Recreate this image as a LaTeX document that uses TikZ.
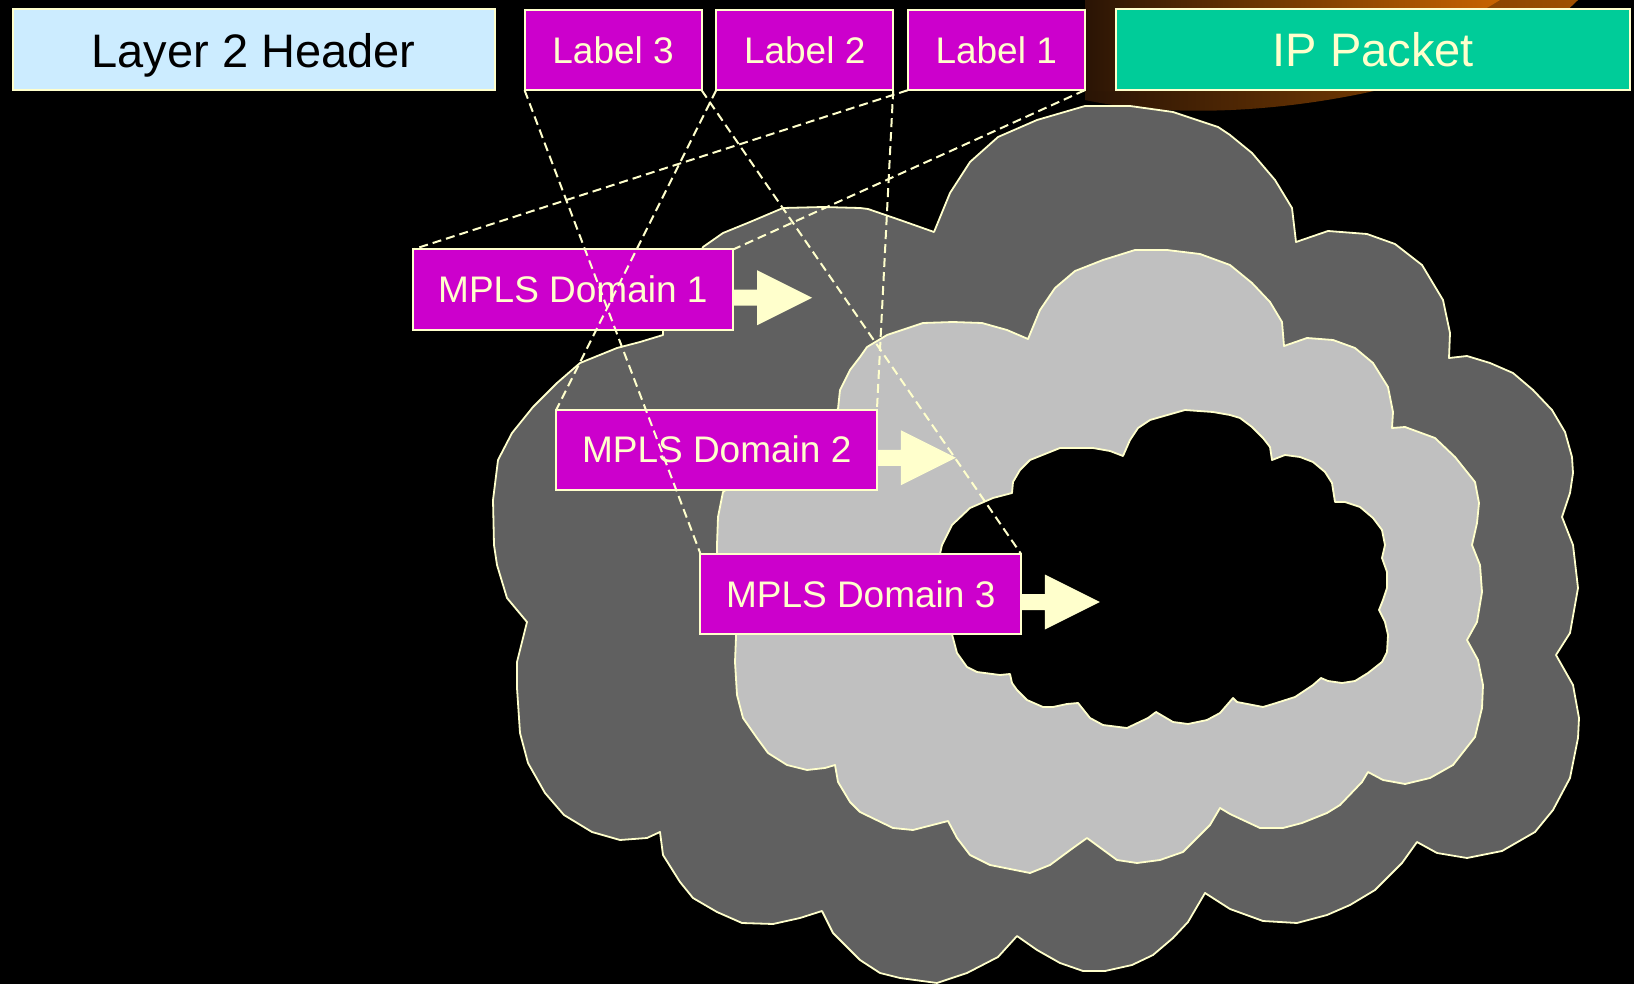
\documentclass[tikz,border=0pt]{standalone}
\usepackage{fontspec}
\setmainfont{Liberation Sans}
\usetikzlibrary{calc}
\definecolor{pale}{HTML}{FFFFCC}
\definecolor{lblmag}{HTML}{CC00CC}
\definecolor{ipteal}{HTML}{00CC99}
\definecolor{hdrblue}{HTML}{CCECFF}
\definecolor{clouddark}{HTML}{606060}
\definecolor{cloudlight}{HTML}{C0C0C0}
\definecolor{glowbright}{HTML}{C86400}
\definecolor{glowdim}{HTML}{A05000}
\definecolor{glowdark}{HTML}{2A1405}
\tikzset{
  blockarrow/.pic={\fill[pale] (0,-8) -- (24,-8) -- (24,-27.5) -- (79,0) -- (24,27.5) -- (24,8) -- (0,8) -- cycle;}
}
\begin{document}
\begin{tikzpicture}[x=0.5pt,y=-0.5pt,
  box/.style={draw=pale, line width=1pt, inner sep=0pt, outer sep=0pt},
  hdrbox/.style={box, minimum height=40.5pt, font=\fontsize{23.5}{28}\selectfont},
  lblbox/.style={box, fill=lblmag, text=pale, minimum width=88.5pt, minimum height=40.25pt, font=\fontsize{18.5}{22}\selectfont},
  dombox/.style={box, fill=lblmag, text=pale, minimum width=160.25pt, minimum height=40.25pt, font=\fontsize{18.5}{22}\selectfont},
  cloudline/.style={draw=pale, line width=0.9pt, line join=round},
  dashln/.style={draw=pale, line width=1pt, dash pattern=on 4.5pt off 2.5pt}
]
\useasboundingbox (0,0) rectangle (1634,984);
\fill[black] (0,0) rectangle (1634,984);

% orange swoosh in the top right corner: dim outer rim, bright band inside
\shade[left color=glowdark, right color=glowdim]
  (1085,0) -- (1085,100) .. controls (1250,135) and (1500,80) .. (1578,0) -- cycle;
\shade[left color=glowdark, right color=glowbright]
  (1085,0) -- (1085,91) .. controls (1300,98) and (1420,50) .. (1500,0) -- cycle;

% outer cloud
\filldraw[cloudline, fill=clouddark]
 (703,247) -- (723,233) -- (750,222) -- (783,208) -- (823,207) -- (860,208) -- (868,209) -- (900,220) -- (934,232)
 -- (950,193) -- (970,162) -- (998,137) -- (1037,120) -- (1085,106) -- (1130,106) -- (1173,112) -- (1218,127) -- (1230,135)
 -- (1252,153) -- (1275,180) -- (1292,208) -- (1296,242) -- (1328,231) -- (1367,234) -- (1395,244) -- (1422,265)
 -- (1443,300) -- (1450,333) -- (1449,358) -- (1467,356) -- (1490,363) -- (1513,373) -- (1533,390) -- (1552,410)
 -- (1565,432) -- (1572,457) -- (1573,473) -- (1570,493) -- (1562,517) -- (1573,545) -- (1578,588) -- (1570,633)
 -- (1556,655) -- (1573,685) -- (1579,718) -- (1578,738) -- (1570,778) -- (1553,810) -- (1535,832) -- (1502,851)
 -- (1467,858) -- (1437,853) -- (1417,842) -- (1402,863) -- (1375,890) -- (1350,905) -- (1327,915) -- (1297,923)
 -- (1263,921) -- (1230,909) -- (1205,893) -- (1188,922) -- (1173,938) -- (1153,955) -- (1132,965) -- (1105,971)
 -- (1083,971) -- (1060,963) -- (1037,950) -- (1017,936) -- (998,957) -- (967,973) -- (937,983) -- (900,978)
 -- (880,973) -- (860,960) -- (850,950) -- (833,933) -- (822,911) -- (800,918) -- (773,924) -- (742,923)
 -- (717,912) -- (693,898) -- (680,882) -- (663,855) -- (660,832) -- (647,838) -- (620,840) -- (592,832)
 -- (564,815) -- (545,793) -- (528,763) -- (520,733) -- (517,688) -- (517,662) -- (527,622) -- (507,598)
 -- (497,565) -- (494,545) -- (493,500) -- (498,460) -- (512,433) -- (533,407) -- (557,383) -- (580,363)
 -- (617,348) -- (640,342) -- (663,335) -- (663,330) -- cycle;

% middle cloud
\filldraw[cloudline, fill=cloudlight]
 (838,409) -- (840,390) -- (850,370) -- (860,357) -- (867,347) -- (887,335) -- (923,323) -- (953,322) -- (982,323)
 -- (1007,330) -- (1028,339) -- (1040,310) -- (1055,288) -- (1075,271) -- (1103,260) -- (1135,250) -- (1167,250)
 -- (1200,254) -- (1230,265) -- (1252,283) -- (1270,302) -- (1282,322) -- (1284,346) -- (1307,338) -- (1333,340)
 -- (1355,348) -- (1373,363) -- (1388,387) -- (1393,412) -- (1392,428) -- (1405,427) -- (1435,438) -- (1455,457)
 -- (1475,482) -- (1479,503) -- (1477,523) -- (1472,545) -- (1480,565) -- (1482,592) -- (1477,622) -- (1467,640)
 -- (1478,660) -- (1483,685) -- (1482,708) -- (1475,737) -- (1453,765) -- (1430,778) -- (1405,784) -- (1383,780)
 -- (1368,772) -- (1362,782) -- (1340,805) -- (1327,813) -- (1302,823) -- (1283,828) -- (1260,828) -- (1230,814)
 -- (1220,808) -- (1210,825) -- (1183,852) -- (1160,860) -- (1137,863) -- (1117,860) -- (1087,838) -- (1073,848)
 -- (1050,865) -- (1030,873) -- (990,865) -- (970,855) -- (957,838) -- (948,821) -- (913,830) -- (893,828)
 -- (860,812) -- (850,802) -- (838,782) -- (835,765) -- (825,768) -- (807,770) -- (787,765) -- (768,753)
 -- (757,738) -- (743,718) -- (737,695) -- (735,662) -- (736,637) -- (736,634) -- (717,554) -- (717,545)
 -- (718,517) -- (723,492) -- cycle;

% inner cloud
\filldraw[cloudline, fill=black]
 (940,554) -- (942,545) -- (952,525) -- (970,508) -- (993,498) -- (1012,493) -- (1013,482) -- (1020,470) -- (1030,460)
 -- (1060,448) -- (1093,448) -- (1110,451) -- (1123,456) -- (1130,440) -- (1138,428) -- (1150,420) -- (1185,410)
 -- (1213,412) -- (1230,415) -- (1240,418) -- (1252,427) -- (1263,438) -- (1270,447) -- (1272,460) -- (1285,455)
 -- (1300,457) -- (1313,462) -- (1325,472) -- (1332,483) -- (1335,502) -- (1345,502) -- (1360,507) -- (1373,518)
 -- (1382,530) -- (1385,545) -- (1382,558) -- (1387,572) -- (1387,588) -- (1383,600) -- (1379,610) -- (1385,622)
 -- (1388,635) -- (1387,652) -- (1382,662) -- (1368,673) -- (1355,681) -- (1342,683) -- (1328,681) -- (1321,678)
 -- (1313,685) -- (1295,697) -- (1273,704) -- (1263,707) -- (1237,702) -- (1233,698) -- (1220,713) -- (1207,720)
 -- (1188,724) -- (1173,722) -- (1156,712) -- (1148,718) -- (1127,728) -- (1103,725) -- (1090,718) -- (1078,703)
 -- (1067,704) -- (1053,707) -- (1043,707) -- (1027,700) -- (1017,690) -- (1012,683) -- (1010,674) -- (1000,675)
 -- (977,672) -- (967,667) -- (957,653) -- (953,638) -- (952,634) -- cycle;

% packet header row
\node[hdrbox, fill=hdrblue, text=black, minimum width=241pt, text depth=0pt] (hdr) at (253.6,50) {Layer 2 Header};
\node[lblbox] (L3) at (613.1,50) {Label 3};
\node[lblbox] (L2) at (804.7,50) {Label 2};
\node[lblbox] (L1) at (996.2,50) {Label 1};
\node[hdrbox, fill=ipteal, text=pale, minimum width=256.75pt] (ip) at (1373.2,50) {IP Packet};

% MPLS domains
\node[dombox] (D1) at (572.9,289.75) {MPLS Domain 1};
\node[dombox] (D2) at (716.7,449.75) {MPLS Domain 2};
\node[dombox] (D3) at (860.7,594) {MPLS Domain 3};

\pic at ($(D1.east)+(0,8)$) {blockarrow};
\pic at ($(D2.east)+(0,8)$) {blockarrow};
\pic at ($(D3.east)+(0,8)$) {blockarrow};

% each label maps to its domain
\draw[dashln] (L1.south west) -- (D1.north west);
\draw[dashln] (L1.south east) -- (D1.north east);
\draw[dashln] (L2.south west) -- (D2.north west);
\draw[dashln] (L2.south east) -- (D2.north east);
\draw[dashln] (L3.south west) -- (D3.north west);
\draw[dashln] (L3.south east) -- (D3.north east);
\end{tikzpicture}
\end{document}
